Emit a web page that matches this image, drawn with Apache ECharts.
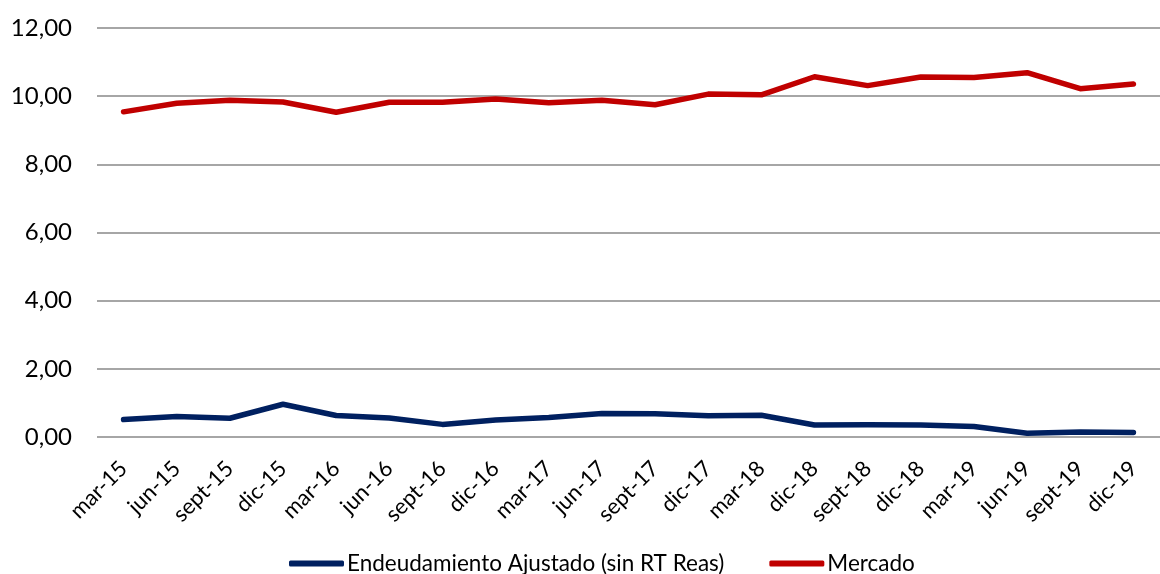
<!DOCTYPE html>
<html>
<head>
<meta charset="utf-8">
<script src="https://cdn.jsdelivr.net/npm/echarts@6/dist/echarts.min.js"></script>
<style>
  html, body { margin: 0; padding: 0; background: #fff; }
  #chart { width: 1160px; height: 574px; }
</style>
</head>
<body>
<div id="chart"></div>
<script>
// Quarterly periods
const categories = ['mar-15', 'jun-15', 'sept-15', 'dic-15', 'mar-16', 'jun-16', 'sept-16', 'dic-16',
  'mar-17', 'jun-17', 'sept-17', 'dic-17', 'mar-18', 'dic-18', 'sept-18', 'dic-18',
  'mar-19', 'jun-19', 'sept-19', 'dic-19'];

// Adjusted indebtedness (without RT Reas)
const endeudamiento = [0.51, 0.60, 0.55, 0.96, 0.63, 0.56, 0.37, 0.50, 0.57, 0.69,
  0.68, 0.62, 0.64, 0.35, 0.36, 0.35, 0.31, 0.11, 0.15, 0.13];

// Market
const mercado = [9.54, 9.79, 9.88, 9.83, 9.53, 9.82, 9.82, 9.92, 9.81, 9.88,
  9.75, 10.06, 10.04, 10.57, 10.31, 10.56, 10.55, 10.69, 10.22, 10.36];

const yTicks = { min: 0, max: 12, interval: 2 };

const font = 'Lato, "Open Sans", "DejaVu Sans", sans-serif';

const chart = echarts.init(document.getElementById('chart'));
chart.setOption({
  animation: false,
  backgroundColor: '#ffffff',
  grid: { left: 97, top: 28, width: 1075, height: 409, containLabel: false },
  legend: {
    bottom: -6,
    left: 284,
    itemWidth: 55,
    itemHeight: 6,
    itemGap: 45,
    icon: 'roundRect',
    textStyle: { fontFamily: font, fontSize: 22.5, color: '#000', padding: [0, 0, 0, -2] },
    data: ['Endeudamiento Ajustado (sin RT Reas)', 'Mercado']
  },
  xAxis: {
    type: 'category',
    data: categories,
    boundaryGap: true,
    axisLine: { show: false },
    axisTick: { show: false },
    axisLabel: {
      rotate: 45,
      interval: 0,
      margin: 28,
      fontFamily: font,
      fontSize: 22,
      color: '#000'
    },
    splitLine: { show: false }
  },
  yAxis: {
    type: 'value',
    min: yTicks.min,
    max: yTicks.max,
    interval: yTicks.interval,
    axisLine: { show: false },
    axisTick: { show: false },
    axisLabel: {
      margin: 25,
      fontFamily: font,
      fontSize: 24,
      color: '#000',
      formatter: v => v.toFixed(2).replace('.', ',')
    },
    splitLine: { lineStyle: { color: '#A6A6A6', width: 2 } }
  },
  series: [
    {
      name: 'Endeudamiento Ajustado (sin RT Reas)',
      type: 'line',
      data: endeudamiento,
      symbol: 'none',
      color: '#002060',
      lineStyle: { width: 5.5, color: '#002060', cap: 'round', join: 'round' }
    },
    {
      name: 'Mercado',
      type: 'line',
      data: mercado,
      symbol: 'none',
      color: '#C00000',
      lineStyle: { width: 5.5, color: '#C00000', cap: 'round', join: 'round' }
    }
  ]
});
</script>
</body>
</html>
